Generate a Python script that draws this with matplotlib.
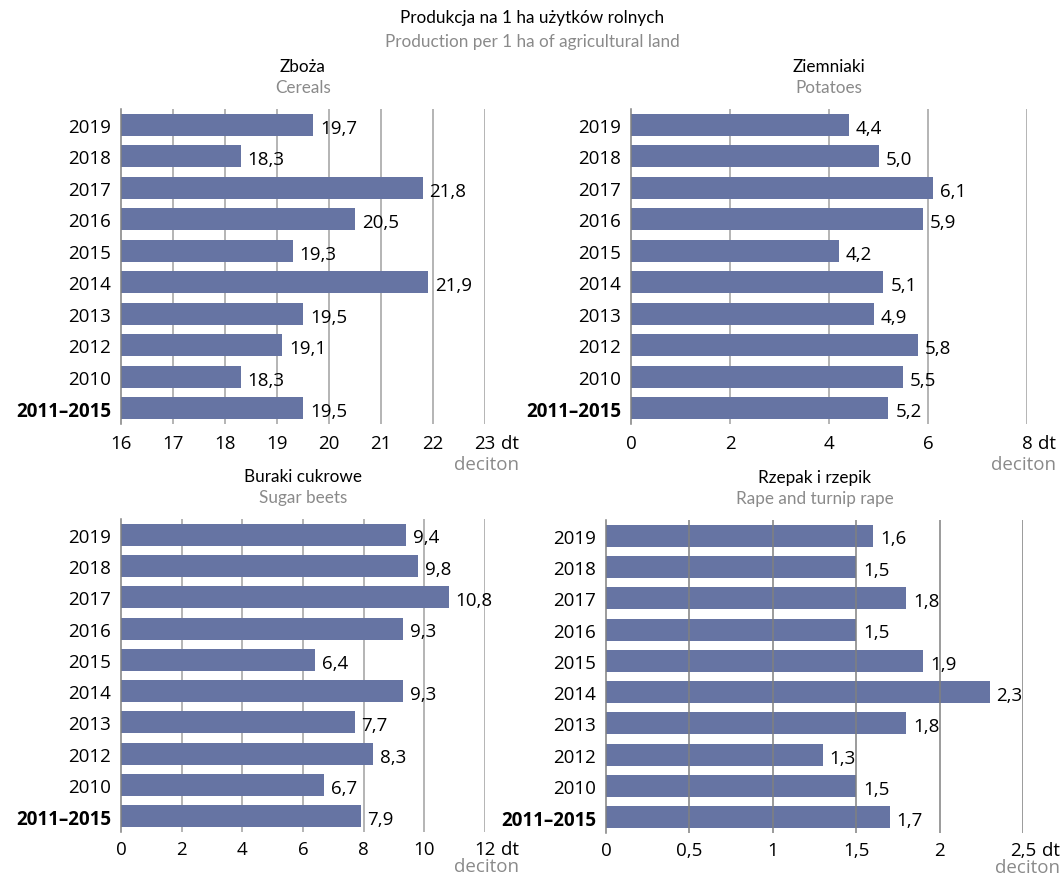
import matplotlib.pyplot as plt

plt.rcParams['font.family'] = ['Open Sans', 'DejaVu Sans']

years = ['2019', '2018', '2017', '2016', '2015', '2014', '2013', '2012', '2010', '2011–2015']

cereals = [19.7, 18.3, 21.8, 20.5, 19.3, 21.9, 19.5, 19.1, 18.3, 19.5]
potatoes = [4.4, 5.0, 6.1, 5.9, 4.2, 5.1, 4.9, 5.8, 5.5, 5.2]
sugar_beets = [9.4, 9.8, 10.8, 9.3, 6.4, 9.3, 7.7, 8.3, 6.7, 7.9]
rape = [1.6, 1.5, 1.8, 1.5, 1.9, 2.3, 1.8, 1.3, 1.5, 1.7]

BAR = '#6674a3'
GRID = '#a0a0a0'
GREY_TXT = '#8a8a8a'
W, H = 1064, 879
NUM = 13.5   # numbers / years
TXT = 12.3   # titles
TFONT = ['Lato', 'DejaVu Sans']

fig = plt.figure(figsize=(W / 100, H / 100), dpi=100)


def fmt(v, dec=1):
    return f'{v:.{dec}f}'.replace('.', ',')


def panel(x0, x1, y0, y1, values, xmin, xmax, ticks, ticklabels, title_pl, title_en,
          grid_on_top=False, pad=7, dec_off=-2.5):
    ax = fig.add_axes([x0 / W, 1 - y1 / H, (x1 - x0) / W, (y1 - y0) / H])
    pos = list(range(len(values)))
    ax.barh(pos, [v - xmin for v in values], left=xmin, height=0.7, color=BAR, zorder=2)
    ax.set_xlim(xmin, xmax)
    ax.set_ylim(len(values) - 0.5, -0.5)
    for t in ticks[1:]:
        ax.axvline(t, color='#808080' if grid_on_top else GRID, lw=1.1, zorder=3 if grid_on_top else 1)
    for s in ['top', 'right', 'bottom']:
        ax.spines[s].set_visible(False)
    ax.spines['left'].set_color('#808080')
    ax.spines['left'].set_linewidth(1.1)
    ax.set_xticks(ticks)
    ax.set_xticklabels(ticklabels, fontsize=NUM)
    ax.tick_params(axis='x', length=0, pad=pad)
    ax.set_yticks(pos)
    ax.set_yticklabels(years, fontsize=NUM)
    ax.tick_params(axis='y', length=0, pad=7)
    ax.get_yticklabels()[-1].set_fontweight('bold')
    last = ax.get_xticklabels()[-1]
    dt = ax.annotate('dt', xy=(1, 0.5), xycoords=last, xytext=(4, 0),
                     textcoords='offset points', ha='left', va='center', fontsize=NUM)
    ax.annotate('deciton', xy=(1, 0), xycoords=dt, xytext=(0, dec_off),
                textcoords='offset points', ha='right', va='top', fontsize=NUM, color=GREY_TXT)
    for p, v in zip(pos, values):
        ax.annotate(fmt(v), xy=(v, p), xytext=(5, -2), textcoords='offset points',
                    ha='left', va='center', fontsize=NUM)
    cx = (x0 + x1) / 2 / W
    fig.text(cx, 1 - (y0 - 43) / H, title_pl, ha='center', va='center', fontsize=TXT, family=TFONT)
    fig.text(cx, 1 - (y0 - 22) / H, title_en, ha='center', va='center', fontsize=TXT,
             color=GREY_TXT, family=TFONT)
    return ax


panel(121, 485, 110, 425, cereals, 16, 23, list(range(16, 24)),
      [str(t) for t in range(16, 24)], 'Zboża', 'Cereals')
panel(631, 1027, 110, 425, potatoes, 0, 8, [0, 2, 4, 6, 8],
      ['0', '2', '4', '6', '8'], 'Ziemniaki', 'Potatoes')
panel(121, 485, 520, 833, sugar_beets, 0, 12, [0, 2, 4, 6, 8, 10, 12],
      ['0', '2', '4', '6', '8', '10', '12'], 'Buraki cukrowe', 'Sugar beets', pad=6, dec_off=1)
panel(606, 1023, 521, 834, rape, 0, 2.5, [0, 0.5, 1, 1.5, 2, 2.5],
      ['0', '0,5', '1', '1,5', '2', '2,5'], 'Rzepak i rzepik', 'Rape and turnip rape',
      grid_on_top=True, pad=6, dec_off=1)

fig.text(0.5, 1 - 18 / H, 'Produkcja na 1 ha użytków rolnych', ha='center', va='center',
         fontsize=TXT, family=TFONT)
fig.text(0.5, 1 - 42 / H, 'Production per 1 ha of agricultural land', ha='center', va='center',
         fontsize=TXT, color=GREY_TXT, family=TFONT)

fig.savefig('out.png', dpi=100)
